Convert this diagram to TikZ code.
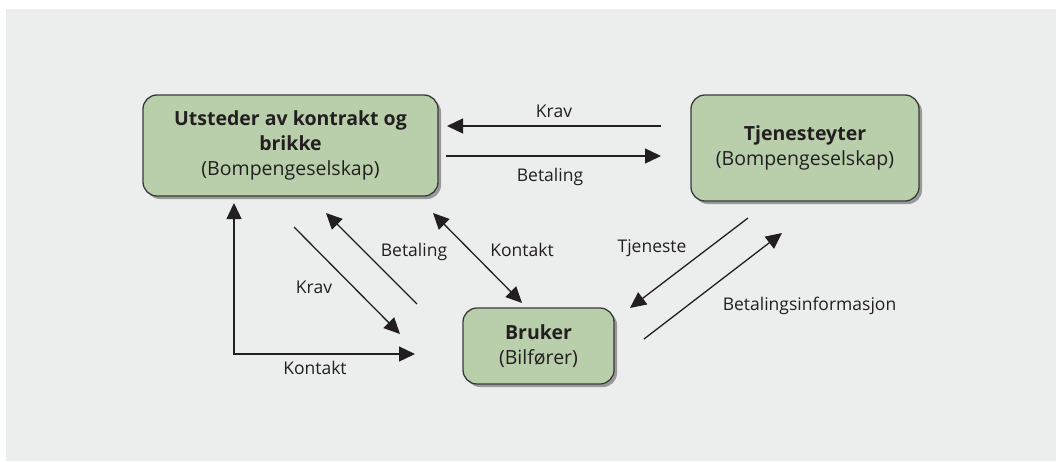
\documentclass[tikz,border=0pt]{standalone}
\usepackage{fontspec}
\setmainfont{Open Sans}
\usetikzlibrary{arrows.meta,shadows}
\definecolor{panel}{HTML}{ECEDED}
\definecolor{boxfill}{HTML}{B9CFAC}
\definecolor{boxline}{HTML}{3A3A3A}
\definecolor{ink}{HTML}{231F20}
\begin{document}
\begin{tikzpicture}[x=1pt,y=-1pt,
  party/.style={draw=boxline, line width=1.3pt, fill=boxfill, rounded corners=14pt,
    align=center, font=\fontsize{19.5}{25}\selectfont, text=ink, inner sep=0pt,
    drop shadow={shadow xshift=3pt, shadow yshift=-3pt, fill=black!40, opacity=1}},
  tip/.tip={Triangle[length=16pt,width=15pt]},
  flow/.style={line width=1.3pt, draw=ink, -tip},
  twoway/.style={line width=1.3pt, draw=ink, tip-tip},
  lbl/.style={font=\fontsize{17.5}{20}\selectfont, text=ink, inner sep=0pt, anchor=base}
]
% canvas and panel
\useasboundingbox (0,0) rectangle (1056,461);
\fill[white] (0,0) rectangle (1056,461);
\fill[panel] (6,9) rectangle (1056,461);

% parties
\node[party, minimum width=295pt, minimum height=101pt] (issuer) at (290.5,145.5)
  {\textbf{Utsteder av kontrakt og}\\\textbf{brikke}\\(Bompengeselskap)};
\node[party, minimum width=228pt, minimum height=106pt] (provider) at (805,148)
  {\textbf{Tjenesteyter}\\(Bompengeselskap)};
\node[party, minimum width=151pt, minimum height=76pt] (user) at (538.5,346)
  {\textbf{Bruker}\\(Bilfører)};

% arrow end points
\coordinate (kravA) at (661,126);   \coordinate (kravB) at (447,126);
\coordinate (betA) at (446,156);    \coordinate (betB) at (661,156);
\coordinate (konT) at (234,203);    \coordinate (konC) at (234,354);
\coordinate (konR) at (415,354);
\coordinate (kdA) at (294,227);     \coordinate (kdB) at (400,334);
\coordinate (bdA) at (417,304);     \coordinate (bdB) at (326,213);
\coordinate (kmA) at (433,213);     \coordinate (kmB) at (522,303);
\coordinate (tjA) at (748,218);     \coordinate (tjB) at (630,308);
\coordinate (biA) at (644,339);     \coordinate (biB) at (782,233);

% flows
\draw[flow] (kravA) -- (kravB);
\draw[flow] (betA) -- (betB);
\draw[twoway] (konT) -- (konC) -- (konR);
\draw[flow] (kdA) -- (kdB);
\draw[flow] (bdA) -- (bdB);
\draw[twoway] (kmA) -- (kmB);
\draw[flow] (tjA) -- (tjB);
\draw[flow] (biA) -- (biB);

% flow labels
\node[lbl] (lKrav) at (554,117) {Krav};
\node[lbl] (lBet) at (550,181) {Betaling};
\node[lbl] (lKon) at (315,374) {Kontakt};
\node[lbl] (lKrav2) at (314,293) {Krav};
\node[lbl] (lBet2) at (414,256) {Betaling};
\node[lbl] (lKon2) at (522,256) {Kontakt};
\node[lbl] (lTj) at (652,252) {Tjeneste};
\node[lbl] (lBi) at (809.5,310) {Betalingsinformasjon};
\end{tikzpicture}
\end{document}
